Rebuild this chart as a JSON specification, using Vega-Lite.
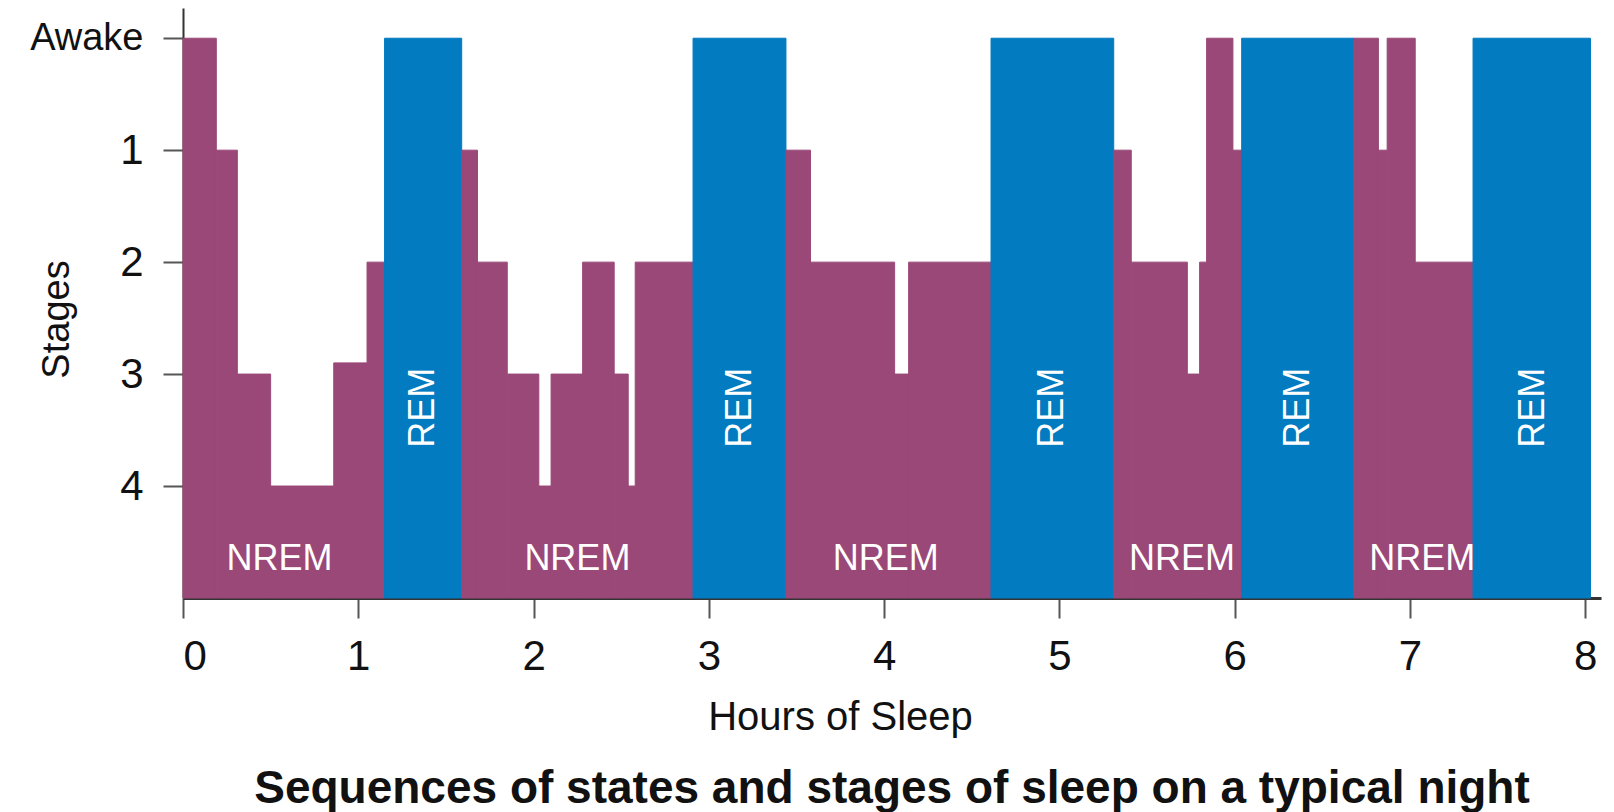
{
  "$schema": "https://vega.github.io/schema/vega-lite/v6.json",
  "autosize": "none",
  "width": 1418,
  "height": 590,
  "padding": {"left": 183, "top": 8, "right": 13, "bottom": 214},
  "background": "white",
  "config": {
    "view": {"stroke": null},
    "font": "Liberation Sans, Arial, sans-serif"
  },
  "title": {
    "text": "Sequences of states and stages of sleep on a typical night",
    "orient": "bottom",
    "anchor": "middle",
    "font": "Liberation Sans, Arial, sans-serif",
    "fontSize": 46,
    "fontWeight": "bold",
    "color": "#111111",
    "offset": 30
  },
  "datasets": {
    "steps": [
      {"start": 0, "end": 0.19, "stage": 0, "type": "NREM"},
      {"start": 0.19, "end": 0.31, "stage": 1, "type": "NREM"},
      {"start": 0.31, "end": 0.5, "stage": 3, "type": "NREM"},
      {"start": 0.5, "end": 0.86, "stage": 4, "type": "NREM"},
      {"start": 0.86, "end": 1.05, "stage": 2.9, "type": "NREM"},
      {"start": 1.05, "end": 1.15, "stage": 2, "type": "NREM"},
      {"start": 1.15, "end": 1.59, "stage": 0, "type": "REM"},
      {"start": 1.59, "end": 1.68, "stage": 1, "type": "NREM"},
      {"start": 1.68, "end": 1.85, "stage": 2, "type": "NREM"},
      {"start": 1.85, "end": 2.03, "stage": 3, "type": "NREM"},
      {"start": 2.03, "end": 2.1, "stage": 4, "type": "NREM"},
      {"start": 2.1, "end": 2.28, "stage": 3, "type": "NREM"},
      {"start": 2.28, "end": 2.46, "stage": 2, "type": "NREM"},
      {"start": 2.46, "end": 2.54, "stage": 3, "type": "NREM"},
      {"start": 2.54, "end": 2.58, "stage": 4, "type": "NREM"},
      {"start": 2.58, "end": 2.91, "stage": 2, "type": "NREM"},
      {"start": 2.91, "end": 3.44, "stage": 0, "type": "REM"},
      {"start": 3.44, "end": 3.58, "stage": 1, "type": "NREM"},
      {"start": 3.58, "end": 4.06, "stage": 2, "type": "NREM"},
      {"start": 4.06, "end": 4.14, "stage": 3, "type": "NREM"},
      {"start": 4.14, "end": 4.61, "stage": 2, "type": "NREM"},
      {"start": 4.61, "end": 5.31, "stage": 0, "type": "REM"},
      {"start": 5.31, "end": 5.41, "stage": 1, "type": "NREM"},
      {"start": 5.41, "end": 5.73, "stage": 2, "type": "NREM"},
      {"start": 5.73, "end": 5.8, "stage": 3, "type": "NREM"},
      {"start": 5.8, "end": 5.84, "stage": 2, "type": "NREM"},
      {"start": 5.84, "end": 5.99, "stage": 0, "type": "NREM"},
      {"start": 5.99, "end": 6.04, "stage": 1, "type": "NREM"},
      {"start": 6.04, "end": 6.68, "stage": 0, "type": "REM"},
      {"start": 6.68, "end": 6.82, "stage": 0, "type": "NREM"},
      {"start": 6.82, "end": 6.87, "stage": 1, "type": "NREM"},
      {"start": 6.87, "end": 7.03, "stage": 0, "type": "NREM"},
      {"start": 7.03, "end": 7.36, "stage": 2, "type": "NREM"},
      {"start": 7.36, "end": 8.03, "stage": 0, "type": "REM"}
    ],
    "labels": [
      {"label": "NREM", "hour": 0.55, "stage": 4.65},
      {"label": "NREM", "hour": 2.25, "stage": 4.65},
      {"label": "NREM", "hour": 4.01, "stage": 4.65},
      {"label": "NREM", "hour": 5.7, "stage": 4.65},
      {"label": "NREM", "hour": 7.07, "stage": 4.65},
      {"label": "REM", "hour": 1.37, "stage": 3.3},
      {"label": "REM", "hour": 3.18, "stage": 3.3},
      {"label": "REM", "hour": 4.96, "stage": 3.3},
      {"label": "REM", "hour": 6.36, "stage": 3.3},
      {"label": "REM", "hour": 7.7, "stage": 3.3}
    ]
  },
  "layer": [
    {
      "data": {"name": "steps"},
      "mark": {"type": "rect", "strokeWidth": 1},
      "encoding": {
        "x": {
          "field": "start",
          "type": "quantitative",
          "scale": {"domain": [0, 8.09], "nice": false, "zero": false},
          "axis": {
            "title": "Hours of Sleep",
            "values": [0, 1, 2, 3, 4, 5, 6, 7, 8],
            "format": "d",
            "grid": false,
            "domainColor": "#333333",
            "domainWidth": 3,
            "tickColor": "#555555",
            "tickWidth": 2,
            "tickSize": 20,
            "labelPadding": 18,
            "labelFontSize": 42,
            "labelColor": "#111111",
            "labelFont": "Liberation Sans, Arial, sans-serif",
            "labelFontWeight": "normal",
            "titleFontSize": 40,
            "titleFontWeight": "normal",
            "titleColor": "#111111",
            "titleFont": "Liberation Sans, Arial, sans-serif",
            "titleX": 657,
            "titleY": 119,
            "titleBaseline": "middle",
            "titleAnchor": null
          }
        },
        "x2": {"field": "end"},
        "y": {
          "field": "stage",
          "type": "quantitative",
          "scale": {"domain": [-0.27, 5], "nice": false, "zero": false, "reverse": true},
          "axis": {
            "title": "Stages",
            "values": [0, 1, 2, 3, 4],
            "format": "d",
            "labelExpr": "datum.value == 0 ? 'Awake' : datum.label",
            "grid": false,
            "domainColor": "#333333",
            "domainWidth": 2,
            "tickColor": "#555555",
            "tickWidth": 2,
            "tickSize": 20,
            "labelPadding": 20,
            "labelFontSize": {"condition": {"test": "datum.value == 0", "value": 38}, "value": 42},
            "labelColor": "#111111",
            "labelFont": "Liberation Sans, Arial, sans-serif",
            "labelBaseline": "middle",
            "titleFontSize": 38,
            "titleFontWeight": "normal",
            "titleColor": "#111111",
            "titleFont": "Liberation Sans, Arial, sans-serif",
            "titleX": -126,
            "titleY": 311,
            "titleAngle": 270,
            "titleBaseline": "middle",
            "titleAlign": "center"
          }
        },
        "y2": {"datum": 5},
        "color": {
          "field": "type",
          "type": "nominal",
          "scale": {"domain": ["NREM", "REM"], "range": ["#9A4878", "#027BC0"]},
          "legend": null
        },
        "stroke": {
          "field": "type",
          "type": "nominal",
          "scale": {"domain": ["NREM", "REM"], "range": ["#9A4878", "#027BC0"]},
          "legend": null
        }
      }
    },
    {
      "data": {"name": "labels"},
      "transform": [{"filter": "datum.label == 'NREM'"}],
      "mark": {"type": "text", "color": "white", "fontSize": 36, "font": "Liberation Sans, Arial, sans-serif", "align": "center", "baseline": "middle"},
      "encoding": {
        "x": {"field": "hour", "type": "quantitative"},
        "y": {"field": "stage", "type": "quantitative"},
        "text": {"field": "label"}
      }
    },
    {
      "data": {"name": "labels"},
      "transform": [{"filter": "datum.label == 'REM'"}],
      "mark": {"type": "text", "color": "white", "fontSize": 36, "angle": 270, "font": "Liberation Sans, Arial, sans-serif", "align": "center", "baseline": "middle"},
      "encoding": {
        "x": {"field": "hour", "type": "quantitative"},
        "y": {"field": "stage", "type": "quantitative"},
        "text": {"field": "label"}
      }
    }
  ]
}
